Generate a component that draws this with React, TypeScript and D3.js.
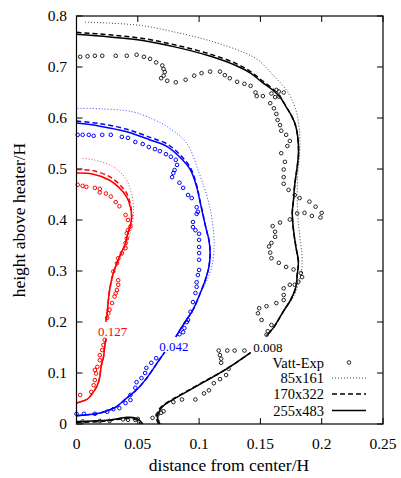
import React from "react";
import * as d3 from "d3";

type P = [number, number];

const xTicks = [0, 0.05, 0.1, 0.15, 0.2, 0.25];
const xTickLabels = ["0", "0.05", "0.1", "0.15", "0.2", "0.25"];
const yTicks = [0, 0.1, 0.2, 0.3, 0.4, 0.5, 0.6, 0.7, 0.8];
const yTickLabels = ["0", "0.1", "0.2", "0.3", "0.4", "0.5", "0.6", "0.7", "0.8"];
const legendLabels = ["Vatt-Exp", "85x161", "170x322", "255x483"];
const contourLevels = ["0.127", "0.042", "0.008"];
const contourLabelPos: P[] = [[0.0294, 0.182], [0.0795, 0.153], [0.156, 0.151]];

// ---- level 0.127 (red)
const redSolidUpper: P[] = [[0, 0.492], [0.013, 0.49], [0.027, 0.478], [0.035, 0.463], [0.041, 0.445], [0.044, 0.425], [0.045, 0.406], [0.044, 0.39], [0.042, 0.375], [0.04, 0.355], [0.034, 0.322], [0.03, 0.296], [0.027, 0.263], [0.025, 0.218], [0.024, 0.2]];
const redSolidLower: P[] = [[0.024, 0.167], [0.023, 0.151], [0.022, 0.131], [0.02, 0.112], [0.019, 0.092], [0.017, 0.076], [0.013, 0.06], [0.009, 0.049], [0.004, 0.044], [0, 0.041]];
const redDashedUpper: P[] = [[0, 0.499], [0.013, 0.497], [0.027, 0.485], [0.035, 0.47], [0.041, 0.452], [0.044, 0.43], [0.045, 0.41], [0.044, 0.39], [0.042, 0.375], [0.04, 0.355], [0.034, 0.322], [0.03, 0.296], [0.027, 0.263], [0.025, 0.218], [0.024, 0.2]];
const redDottedUpper: P[] = [[0.005, 0.521], [0.014, 0.518], [0.027, 0.508], [0.035, 0.495], [0.041, 0.478], [0.044, 0.459], [0.046, 0.439], [0.0465, 0.42], [0.046, 0.4], [0.044, 0.375], [0.041, 0.35], [0.036, 0.325], [0.031, 0.3], [0.028, 0.27], [0.025, 0.22], [0.024, 0.2]];
const redExp: P[] = [[0.001, 0.469], [0.005, 0.467], [0.008, 0.465], [0.015, 0.463], [0.019, 0.461], [0.019, 0.454], [0.024, 0.452], [0.028, 0.446], [0.032, 0.435], [0.035, 0.427], [0.04, 0.41], [0.042, 0.4], [0.044, 0.387], [0.042, 0.38], [0.041, 0.374], [0.041, 0.364], [0.04, 0.355], [0.04, 0.345], [0.037, 0.335], [0.034, 0.325], [0.033, 0.315], [0.03, 0.299], [0.034, 0.282], [0.034, 0.273], [0.033, 0.263], [0.032, 0.256], [0.031, 0.25], [0.029, 0.237], [0.027, 0.224], [0.026, 0.217], [0.025, 0.208], [0.023, 0.165], [0.022, 0.155], [0.021, 0.145], [0.019, 0.135], [0.019, 0.125], [0.017, 0.112], [0.015, 0.106], [0.016, 0.099], [0.015, 0.086], [0.014, 0.076], [0.012, 0.063], [0.003, 0.057]];

// ---- level 0.042 (blue)
const blueSolidUpper: P[] = [[0, 0.59], [0.019, 0.584], [0.041, 0.573], [0.06, 0.557], [0.074, 0.544], [0.084, 0.524], [0.093, 0.498], [0.098, 0.465], [0.101, 0.433], [0.106, 0.38], [0.108, 0.361], [0.109, 0.335], [0.108, 0.308], [0.105, 0.282], [0.101, 0.257], [0.095, 0.224], [0.088, 0.198], [0.081, 0.171]];
const blueSolidLower: P[] = [[0, 0.016], [0.008, 0.018], [0.016, 0.02], [0.024, 0.025], [0.032, 0.033], [0.04, 0.049], [0.049, 0.067], [0.056, 0.086], [0.062, 0.106], [0.067, 0.124], [0.072, 0.141]];
const blueDashedUpper: P[] = [[0, 0.594], [0.019, 0.589], [0.041, 0.578], [0.06, 0.562], [0.074, 0.549], [0.084, 0.529], [0.093, 0.502], [0.098, 0.468], [0.101, 0.435], [0.106, 0.38], [0.108, 0.361], [0.109, 0.335], [0.108, 0.308], [0.105, 0.282], [0.101, 0.257], [0.095, 0.224], [0.088, 0.198], [0.081, 0.171]];
const blueDottedUpper: P[] = [[0.001, 0.619], [0.02, 0.618], [0.046, 0.612], [0.062, 0.598], [0.074, 0.583], [0.09, 0.55], [0.1, 0.492], [0.106, 0.45], [0.11, 0.41], [0.112, 0.37], [0.112, 0.335], [0.11, 0.305], [0.106, 0.28], [0.101, 0.257], [0.095, 0.224], [0.088, 0.198], [0.081, 0.171]];
const blueExp: P[] = [[0.001, 0.567], [0.005, 0.567], [0.01, 0.567], [0.014, 0.565], [0.021, 0.567], [0.028, 0.567], [0.037, 0.563], [0.042, 0.561], [0.048, 0.553], [0.054, 0.549], [0.059, 0.543], [0.064, 0.539], [0.068, 0.535], [0.073, 0.529], [0.077, 0.524], [0.081, 0.518], [0.082, 0.508], [0.08, 0.498], [0.079, 0.492], [0.078, 0.484], [0.084, 0.473], [0.087, 0.463], [0.091, 0.449], [0.094, 0.443], [0.098, 0.425], [0.099, 0.416], [0.098, 0.412], [0.095, 0.396], [0.095, 0.386], [0.097, 0.38], [0.1, 0.373], [0.1, 0.361], [0.1, 0.347], [0.1, 0.335], [0.1, 0.322], [0.1, 0.302], [0.099, 0.292], [0.098, 0.278], [0.098, 0.269], [0.097, 0.257], [0.095, 0.239], [0.093, 0.22], [0.091, 0.204], [0.09, 0.2], [0.088, 0.188], [0.087, 0.18], [0.084, 0.176], [0.065, 0.129], [0.061, 0.12], [0.057, 0.11], [0.056, 0.1], [0.053, 0.09], [0.049, 0.082], [0.048, 0.071], [0.044, 0.057], [0.044, 0.047], [0.04, 0.041], [0.035, 0.031], [0.03, 0.029], [0.025, 0.024], [0.015, 0.02], [0.006, 0.02], [0, 0.02]];

// ---- level 0.008 (black)
const blackSolidUpper: P[] = [[0, 0.764], [0.027, 0.759], [0.054, 0.752], [0.081, 0.739], [0.108, 0.722], [0.13, 0.703], [0.142, 0.688], [0.151, 0.671], [0.16, 0.655], [0.166, 0.641], [0.171, 0.622], [0.175, 0.606], [0.178, 0.59], [0.18, 0.571], [0.181, 0.547], [0.181, 0.527], [0.18, 0.504], [0.178, 0.469], [0.177, 0.439], [0.176, 0.414], [0.177, 0.38], [0.179, 0.347], [0.181, 0.318], [0.18, 0.292], [0.179, 0.269], [0.175, 0.245], [0.168, 0.218], [0.161, 0.19], [0.155, 0.173]];
const blackSolidLower: P[] = [[0.068, 0], [0.066, 0.012], [0.067, 0.022], [0.069, 0.031], [0.072, 0.038], [0.078, 0.047], [0.089, 0.062], [0.103, 0.081], [0.119, 0.103], [0.13, 0.12], [0.142, 0.14]];
const blackSolidHump: P[] = [[0, 0.005], [0.013, 0.006], [0.027, 0.008], [0.041, 0.013], [0.048, 0.012], [0.052, 0.006], [0.054, 0]];
const blackDashedUpper: P[] = [[0, 0.768], [0.027, 0.763], [0.054, 0.756], [0.081, 0.743], [0.108, 0.726], [0.13, 0.707], [0.142, 0.691], [0.151, 0.674], [0.16, 0.657], [0.166, 0.642], [0.171, 0.622], [0.175, 0.606], [0.178, 0.59], [0.18, 0.571], [0.181, 0.547], [0.181, 0.527], [0.18, 0.504], [0.178, 0.469], [0.177, 0.439], [0.176, 0.414], [0.177, 0.38], [0.179, 0.347], [0.181, 0.318], [0.18, 0.292], [0.179, 0.269], [0.175, 0.245], [0.168, 0.218], [0.161, 0.19], [0.155, 0.173]];
const blackDashedLower: P[] = [[0.067, 0], [0.065, 0.012], [0.066, 0.022], [0.068, 0.031], [0.072, 0.039], [0.078, 0.048], [0.089, 0.063], [0.103, 0.082], [0.119, 0.103], [0.13, 0.12], [0.142, 0.14]];
const blackDashedHump: P[] = [[0, 0.003], [0.02, 0.005], [0.038, 0.01], [0.047, 0.01], [0.051, 0.005], [0.052, 0]];
const blackDottedUpper: P[] = [[0.007, 0.788], [0.027, 0.786], [0.054, 0.781], [0.081, 0.768], [0.108, 0.752], [0.136, 0.729], [0.148, 0.714], [0.16, 0.685], [0.172, 0.652], [0.179, 0.615], [0.182, 0.57], [0.182, 0.531], [0.1805, 0.49], [0.18, 0.45], [0.1805, 0.41], [0.182, 0.37], [0.184, 0.33], [0.1835, 0.3], [0.181, 0.275], [0.177, 0.25], [0.168, 0.218], [0.161, 0.19], [0.155, 0.173]];
const blackDottedLower: P[] = [[0.069, 0], [0.067, 0.012], [0.068, 0.023], [0.07, 0.032], [0.073, 0.039], [0.079, 0.048], [0.09, 0.063], [0.104, 0.082], [0.119, 0.103], [0.13, 0.12], [0.142, 0.14]];
const blackDottedHump: P[] = [[0, 0.004], [0.015, 0.005], [0.03, 0.008], [0.042, 0.011], [0.049, 0.01], [0.053, 0.004], [0.055, 0]];
const blackExp: P[] = [[0.005, 0.005], [0.019, 0.006], [0.027, 0.006], [0.038, 0.009], [0.042, 0.008], [0.048, 0.008], [0.05, 0.01], [0.062, 0.012], [0.066, 0.018], [0.069, 0.022], [0.071, 0.025], [0.079, 0.043], [0.086, 0.048], [0.097, 0.048], [0.104, 0.06], [0.108, 0.066], [0.112, 0.08], [0.117, 0.088], [0.122, 0.096], [0.124, 0.108], [0.116, 0.144], [0.123, 0.144], [0.129, 0.144], [0.137, 0.144], [0.117, 0.135], [0.118, 0.128], [0.118, 0.12], [0.155, 0.175], [0.156, 0.182], [0.159, 0.194], [0.151, 0.204], [0.148, 0.217], [0.149, 0.227], [0.155, 0.231], [0.163, 0.237], [0.169, 0.243], [0.169, 0.253], [0.169, 0.266], [0.174, 0.273], [0.178, 0.273], [0.181, 0.279], [0.184, 0.288], [0.183, 0.296], [0.177, 0.303], [0.171, 0.308], [0.165, 0.316], [0.159, 0.325], [0.158, 0.336], [0.157, 0.348], [0.159, 0.355], [0.162, 0.367], [0.162, 0.377], [0.16, 0.388], [0.166, 0.395], [0.174, 0.401], [0.18, 0.413], [0.186, 0.414], [0.192, 0.408], [0.199, 0.405], [0.2, 0.414], [0.195, 0.426], [0.19, 0.436], [0.182, 0.443], [0.178, 0.449], [0.173, 0.459], [0.169, 0.471], [0.169, 0.484], [0.169, 0.499], [0.17, 0.514], [0.167, 0.531], [0.172, 0.545], [0.174, 0.555], [0.171, 0.567], [0.167, 0.575], [0.166, 0.586], [0.164, 0.596], [0.163, 0.608], [0.161, 0.619], [0.158, 0.629], [0.162, 0.641], [0.165, 0.642], [0.169, 0.65], [0.165, 0.652], [0.163, 0.655], [0.159, 0.648], [0.152, 0.643], [0.147, 0.643], [0.146, 0.65], [0.142, 0.663], [0.137, 0.667], [0.131, 0.671], [0.125, 0.678], [0.121, 0.684], [0.117, 0.691], [0.109, 0.691], [0.102, 0.688], [0.096, 0.683], [0.089, 0.675], [0.081, 0.67], [0.074, 0.673], [0.069, 0.678], [0.071, 0.683], [0.072, 0.69], [0.071, 0.696], [0.07, 0.703], [0.065, 0.709], [0.06, 0.716], [0.055, 0.72], [0.049, 0.724], [0.041, 0.722], [0.032, 0.722], [0.021, 0.722], [0.015, 0.722], [0.009, 0.721], [0.003, 0.72]];

const RED = "#ff0000";
const BLUE = "#0000ff";
const BLACK = "#000000";

type Ln = { pts: P[]; color: string; kind: "dot" | "dash" | "solid" };
const lines: Ln[] = [
  ...[redDottedUpper, redSolidLower].map((pts) => ({ pts, color: RED, kind: "dot" as const })),
  ...[redDashedUpper, redSolidLower].map((pts) => ({ pts, color: RED, kind: "dash" as const })),
  ...[redSolidUpper, redSolidLower].map((pts) => ({ pts, color: RED, kind: "solid" as const })),
  ...[blueDottedUpper, blueSolidLower].map((pts) => ({ pts, color: BLUE, kind: "dot" as const })),
  ...[blueDashedUpper, blueSolidLower].map((pts) => ({ pts, color: BLUE, kind: "dash" as const })),
  ...[blueSolidUpper, blueSolidLower].map((pts) => ({ pts, color: BLUE, kind: "solid" as const })),
  ...[blackDottedUpper, blackDottedLower, blackDottedHump].map((pts) => ({ pts, color: BLACK, kind: "dot" as const })),
  ...[blackDashedUpper, blackDashedLower, blackDashedHump].map((pts) => ({ pts, color: BLACK, kind: "dash" as const })),
  ...[blackSolidUpper, blackSolidLower, blackSolidHump].map((pts) => ({ pts, color: BLACK, kind: "solid" as const })),
];

const expSets: { pts: P[]; color: string }[] = [
  { pts: redExp, color: RED },
  { pts: blueExp, color: BLUE },
  { pts: blackExp, color: "#222222" },
];
const labelColors = [RED, BLUE, BLACK];

const styleFor = (kind: string) =>
  kind === "dot"
    ? { strokeWidth: 1, strokeDasharray: "1,2", opacity: 0.75 }
    : kind === "dash"
    ? { strokeWidth: 1.5, strokeDasharray: "5,3", opacity: 1 }
    : { strokeWidth: 1.5, strokeDasharray: "none", opacity: 1 };

export default function App() {
  const W = 401, H = 478;
  const L = 76.5, R = 383, T = 16, B = 424;
  const x = d3.scaleLinear().domain([0, 0.25]).range([L, R]);
  const y = d3.scaleLinear().domain([0, 0.8]).range([B, T]);
  const lineC = d3.line<P>().x((d) => x(d[0])).y((d) => y(d[1])).curve(d3.curveCatmullRom.alpha(0.5));
  const font = "'Liberation Serif', 'Times New Roman', serif";
  const legendKinds = ["dot", "dash", "solid"];
  const lgY = [362.5, 378, 394, 410.5];

  return (
    <svg width={W} height={H} style={{ position: "absolute", left: 0, top: 0, background: "#fff" }} fontFamily={font}>
      <rect x={0} y={0} width={W} height={H} fill="#fff" />
      {xTicks.map((t, i) => (
        <g key={"xt" + i}>
          <line x1={x(t)} x2={x(t)} y1={B} y2={B - 6} stroke="#000" />
          <line x1={x(t)} x2={x(t)} y1={T} y2={T + 6} stroke="#000" />
          <text x={x(t)} y={B + 25} textAnchor="middle" fontSize={15.5}>{xTickLabels[i]}</text>
        </g>
      ))}
      {yTicks.map((t, i) => (
        <g key={"yt" + i}>
          <line x1={L} x2={L + 6} y1={y(t)} y2={y(t)} stroke="#000" />
          <line x1={R} x2={R - 6} y1={y(t)} y2={y(t)} stroke="#000" />
          <text x={67} y={y(t)} dy="0.33em" textAnchor="end" fontSize={15.5}>{yTickLabels[i]}</text>
        </g>
      ))}
      {lines.map((l, i) => {
        const s = styleFor(l.kind);
        return (
          <path key={"l" + i} d={lineC(l.pts) || ""} fill="none" stroke={l.color} strokeWidth={s.strokeWidth}
            strokeDasharray={s.strokeDasharray} opacity={s.opacity} />
        );
      })}
      {expSets.map((s, j) =>
        s.pts.map((p, i) => (
          <circle key={"e" + j + "-" + i} cx={x(p[0])} cy={y(p[1])} r={1.8} fill="none" stroke={s.color} strokeWidth={1} />
        ))
      )}
      {contourLevels.map((lv, i) => (
        <text key={"cl" + i} x={x(contourLabelPos[i][0])} y={y(contourLabelPos[i][1])} dy="0.35em" textAnchor="middle"
          fontSize={13} fill={labelColors[i]}>{lv}</text>
      ))}
      {legendLabels.map((lb, i) => (
        <text key={"lg" + i} x={324} y={lgY[i]} dy="0.35em" textAnchor="end" fontSize={14.5}>{lb}</text>
      ))}
      <circle cx={349} cy={lgY[0]} r={1.8} fill="none" stroke="#222" strokeWidth={1} />
      {legendKinds.map((k, i) => {
        const s = styleFor(k);
        return (
          <line key={"lk" + i} x1={332} x2={366} y1={lgY[i + 1]} y2={lgY[i + 1]} stroke="#000"
            strokeWidth={s.strokeWidth} strokeDasharray={s.strokeDasharray} opacity={s.opacity} />
        );
      })}
      <rect x={L} y={T} width={R - L} height={B - T} fill="none" stroke="#000" strokeWidth={1.2} />
      <text x={229} y={471} textAnchor="middle" fontSize={17.5}>distance from center/H</text>
      <text transform={`translate(25,220) rotate(-90)`} textAnchor="middle" fontSize={17.5}>height above heater/H</text>
    </svg>
  );
}
